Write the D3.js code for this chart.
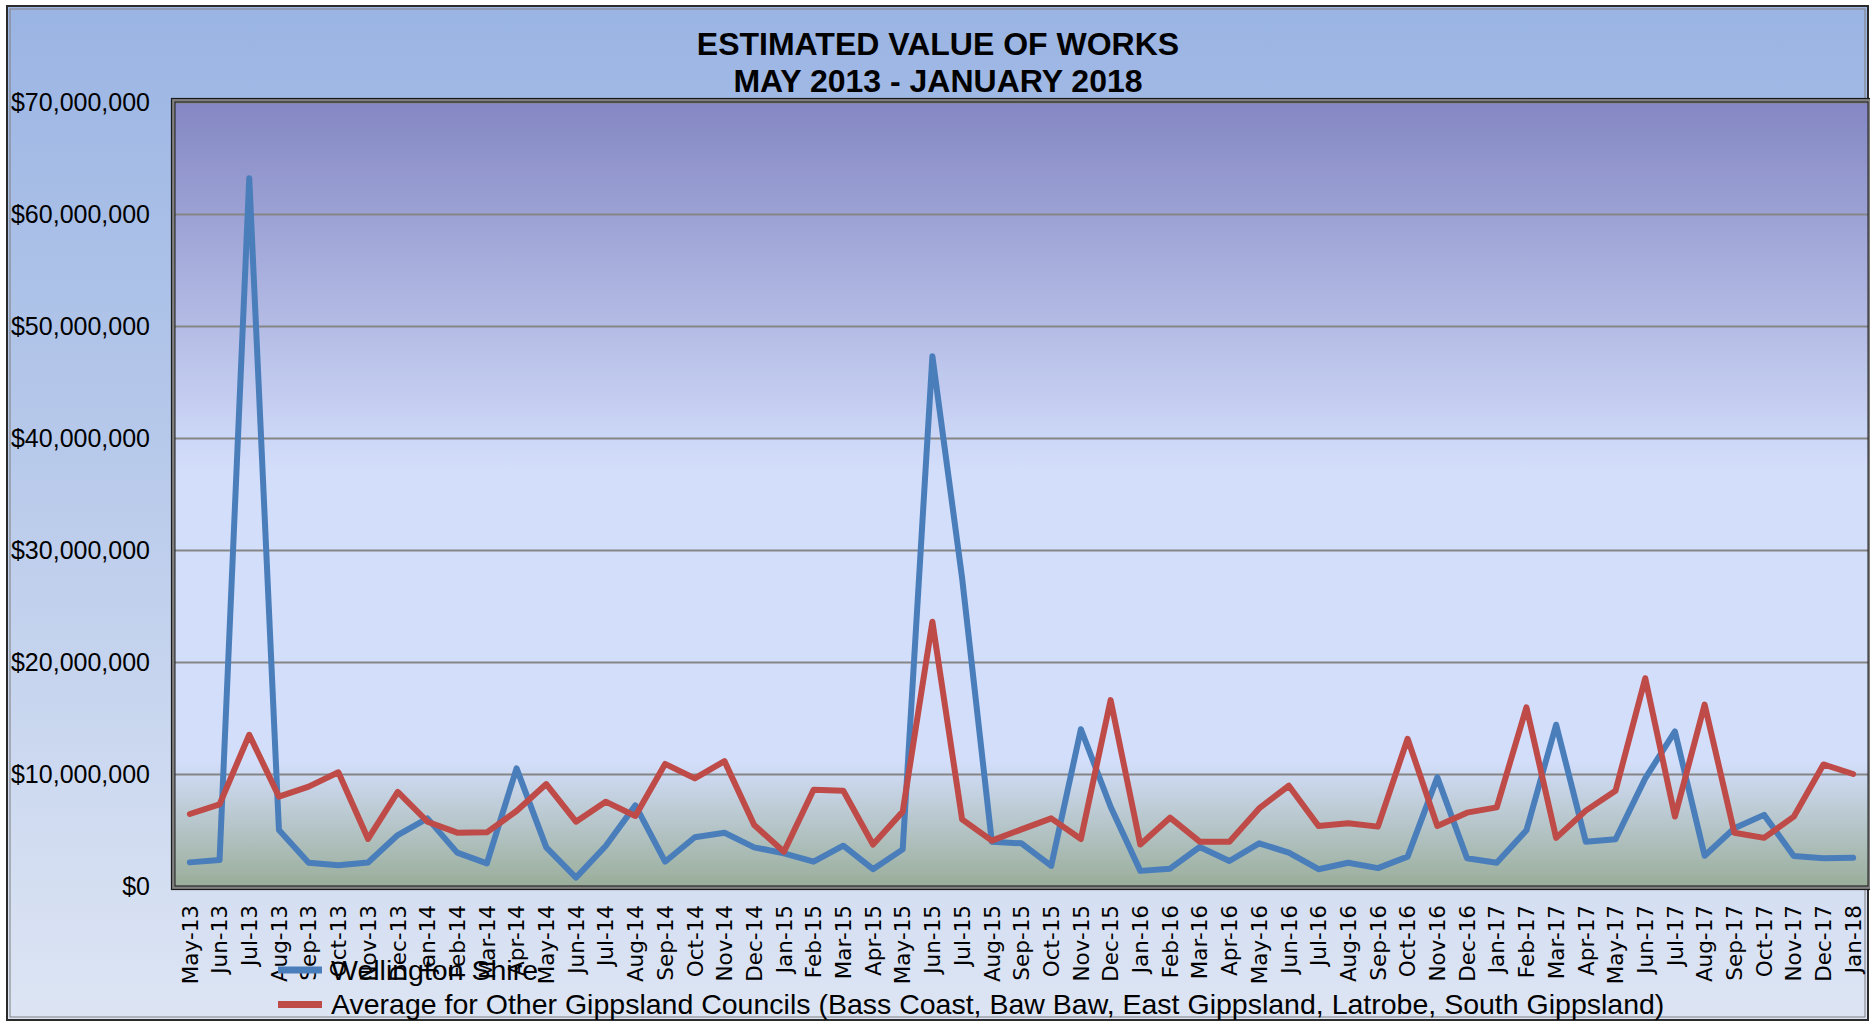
<!DOCTYPE html>
<html><head><meta charset="utf-8">
<script src="https://cdn.jsdelivr.net/npm/d3@7"></script>
<style>
html,body{margin:0;padding:0;background:#fff;}
svg{display:block;}
</style></head><body>
<svg id="chart" width="1870" height="1022"></svg>
<script>
const months = ["May-13","Jun-13","Jul-13","Aug-13","Sep-13","Oct-13","Nov-13","Dec-13",
  "Jan-14","Feb-14","Mar-14","Apr-14","May-14","Jun-14","Jul-14","Aug-14","Sep-14","Oct-14","Nov-14","Dec-14",
  "Jan-15","Feb-15","Mar-15","Apr-15","May-15","Jun-15","Jul-15","Aug-15","Sep-15","Oct-15","Nov-15","Dec-15",
  "Jan-16","Feb-16","Mar-16","Apr-16","May-16","Jun-16","Jul-16","Aug-16","Sep-16","Oct-16","Nov-16","Dec-16",
  "Jan-17","Feb-17","Mar-17","Apr-17","May-17","Jun-17","Jul-17","Aug-17","Sep-17","Oct-17","Nov-17","Dec-17",
  "Jan-18"];

// values in $ millions
const wellington = [2.11,2.32,63.2,5.0,2.08,1.85,2.1,4.55,
  6.04,2.98,2.02,10.5,3.45,0.75,3.57,7.2,2.17,4.35,4.76,3.45,
  2.92,2.17,3.6,1.5,3.27,47.3,27.5,3.96,3.81,1.8,14.0,7.08,
  1.35,1.55,3.48,2.23,3.81,2.98,1.5,2.08,1.6,2.62,9.7,2.47,
  2.08,4.97,14.4,3.96,4.17,9.61,13.8,2.7,5.15,6.35,2.68,2.47,
  2.53];

const otherAvg = [6.43,7.29,13.5,7.98,8.87,10.15,4.2,8.4,
  5.74,4.76,4.79,6.7,9.1,5.74,7.53,6.25,10.9,9.61,11.15,5.45,
  3.05,8.6,8.5,3.7,6.64,23.6,5.95,4.05,5.06,6.04,4.2,16.6,
  3.7,6.1,3.96,3.96,6.93,8.95,5.36,5.6,5.3,13.15,5.36,6.55,
  7.02,15.95,4.3,6.73,8.5,18.55,6.2,16.2,4.75,4.3,6.19,10.85,
  10.0];

const yTicks = [0,10,20,30,40,50,60,70];
const titleLines = ["ESTIMATED VALUE OF WORKS","MAY 2013 - JANUARY 2018"];
const seriesNames = ["Wellington Shire",
  "Average for Other Gippsland Councils (Bass Coast, Baw Baw, East Gippsland, Latrobe, South Gippsland)"];
const seriesColors = ["#4a7ebb","#be4b48"];

const plot = {left:175, right:1868, top:102, bottom:886};

const svg = d3.select("#chart");
const defs = svg.append("defs");

const bgGrad = defs.append("linearGradient").attr("id","bgGrad")
  .attr("x1",0).attr("y1",0).attr("x2",0).attr("y2",1);
bgGrad.append("stop").attr("offset","0%").attr("stop-color","#9ab4e3");
bgGrad.append("stop").attr("offset","100%").attr("stop-color","#dde5f4");

const plotGrad = defs.append("linearGradient").attr("id","plotGrad")
  .attr("x1",0).attr("y1",0).attr("x2",0).attr("y2",1);
plotGrad.append("stop").attr("offset","0%").attr("stop-color","#8487c3");
plotGrad.append("stop").attr("offset","47%").attr("stop-color","#d3defb");
plotGrad.append("stop").attr("offset","84%").attr("stop-color","#d3defb");
plotGrad.append("stop").attr("offset","100%").attr("stop-color","#9aae9a");

// chart area
svg.append("rect").attr("x",7).attr("y",6).attr("width",1861).attr("height",1014)
  .attr("fill","url(#bgGrad)").attr("stroke","#2b2b2b").attr("stroke-width",2);
svg.append("rect").attr("x",10).attr("y",9).attr("width",1855).attr("height",1008)
  .attr("fill","none").attr("stroke","#7f7f7f").attr("stroke-width",1);

// plot area
svg.append("rect").attr("x",plot.left).attr("y",plot.top)
  .attr("width",plot.right-plot.left).attr("height",plot.bottom-plot.top)
  .attr("fill","url(#plotGrad)");

const x = d3.scaleBand().domain(months).range([plot.left, plot.right]).padding(0);
const y = d3.scaleLinear().domain([0,70]).range([plot.bottom, plot.top]);
const cx = m => x(m) + x.bandwidth()/2;

// gridlines
svg.append("g")
  .attr("transform",`translate(${plot.left},0)`)
  .call(d3.axisLeft(y).tickValues(yTicks).tickSize(-(plot.right-plot.left)).tickFormat(""))
  .call(g => g.select(".domain").remove())
  .call(g => g.selectAll("line").attr("stroke","#858585").attr("stroke-width",2));

// y-axis labels
const fmt = v => "$" + d3.format(",")(v*1e6);
svg.append("g")
  .attr("transform",`translate(150,0)`)
  .call(d3.axisLeft(y).tickValues(yTicks).tickSize(0).tickPadding(0).tickFormat(fmt))
  .call(g => g.select(".domain").remove())
  .call(g => g.selectAll("text").attr("font-family","'Liberation Sans', Arial, sans-serif")
     .attr("font-size",25).attr("fill","#000").attr("dy","0.35em"));

// plot border
svg.append("rect").attr("x",plot.left-1.5).attr("y",plot.top-1.5)
  .attr("width",plot.right-plot.left+3).attr("height",plot.bottom-plot.top+3)
  .attr("fill","none").attr("stroke","#808080").attr("stroke-width",3);
svg.append("rect").attr("x",plot.left-3.5).attr("y",plot.top-3.5)
  .attr("width",plot.right-plot.left+7).attr("height",plot.bottom-plot.top+7)
  .attr("fill","none").attr("stroke","#1a1a1a").attr("stroke-width",1.2);
svg.append("rect").attr("x",plot.left).attr("y",plot.top)
  .attr("width",plot.right-plot.left).attr("height",plot.bottom-plot.top)
  .attr("fill","none").attr("stroke","#1a1a1a").attr("stroke-width",1);

// lines
const line = d3.line().x((d,i)=>cx(months[i])).y(d=>y(d));
[wellington, otherAvg].forEach((s,k)=>{
  svg.append("path").datum(s).attr("d",line)
    .attr("fill","none").attr("stroke",seriesColors[k]).attr("stroke-width",6)
    .attr("stroke-linejoin","round").attr("stroke-linecap","round");
});

// x-axis labels
svg.append("g")
  .attr("transform",`translate(0,${plot.bottom})`)
  .call(d3.axisBottom(x).tickSize(0).tickPadding(0))
  .call(g => g.select(".domain").remove())
  .call(g => g.selectAll("text")
     .attr("font-family","'DejaVu Sans', Verdana, sans-serif").attr("font-size",21.5).attr("fill","#000")
     .attr("text-anchor","end").attr("transform","rotate(-90)")
     .attr("x",-19).attr("y",0).attr("dy","0.36em"));

// title
svg.append("g").selectAll("text").data(titleLines).join("text")
  .attr("x",938).attr("y",(d,i)=>55+i*37)
  .attr("text-anchor","middle")
  .attr("font-family","'Liberation Sans', Arial, sans-serif").attr("font-weight","bold")
  .attr("font-size",32).attr("fill","#000").text(d=>d);

// legend
const lg = svg.append("g");
seriesNames.forEach((name,k)=>{
  const ly = 970 + k*34.5;
  lg.append("line").attr("x1",278).attr("x2",322).attr("y1",ly).attr("y2",ly)
    .attr("stroke",seriesColors[k]).attr("stroke-width",7);
  lg.append("text").attr("x",331).attr("y",ly).attr("dy","0.35em")
    .attr("font-family","'Liberation Sans', Arial, sans-serif").attr("font-size",28.5)
    .attr("fill","#000").text(name);
});
</script>
</body></html>
